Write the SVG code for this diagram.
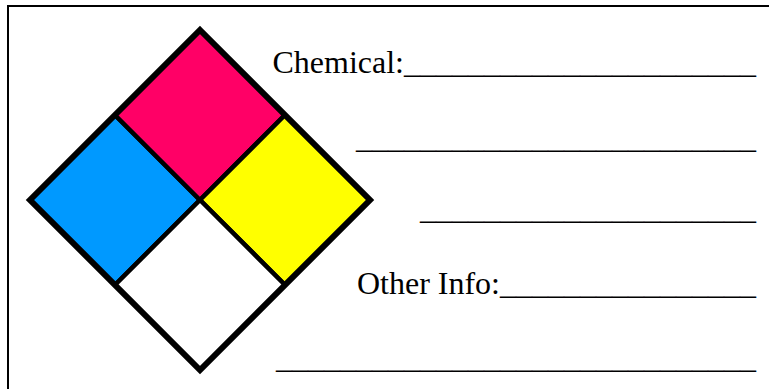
<svg xmlns="http://www.w3.org/2000/svg" width="769" height="389" viewBox="0 0 769 389">
<style>
.q{stroke:#000;stroke-width:4.5;stroke-linejoin:miter}
.t{font-family:"Liberation Serif","Times New Roman",serif;font-size:32px;fill:#000}
</style>
<rect width="769" height="389" fill="#fff"/>
<g id="frame">
<line x1="7" y1="6" x2="769" y2="6" stroke="#000" stroke-width="2"/>
<line x1="8" y1="5" x2="8" y2="389" stroke="#000" stroke-width="2"/>
</g>
<g id="diamond">
<polygon id="health" class="q" fill="#0099FF" points="115,115 200,200 115,285 30,200"/>
<polygon id="flammability" class="q" fill="#FF0066" points="200,30 285,115 200,200 115,115"/>
<polygon id="instability" class="q" fill="#FFFF00" points="285,115 370,200 285,285 200,200"/>
<polygon id="special" class="q" fill="#FFFFFF" points="200,200 285,285 200,370 115,285"/>
<polygon fill="none" stroke="#000" stroke-width="6" stroke-linejoin="miter" points="200,30 370,200 200,370 30,200"/>
</g>
<g id="labels">
<text class="t" x="756" y="73" text-anchor="end">Chemical:______________________</text>
<text class="t" x="756" y="148" text-anchor="end">_________________________</text>
<text class="t" x="756" y="219" text-anchor="end">_____________________</text>
<text class="t" x="756" y="294" text-anchor="end">Other Info:________________</text>
<text class="t" x="756" y="368" text-anchor="end">______________________________</text>
</g>
</svg>
